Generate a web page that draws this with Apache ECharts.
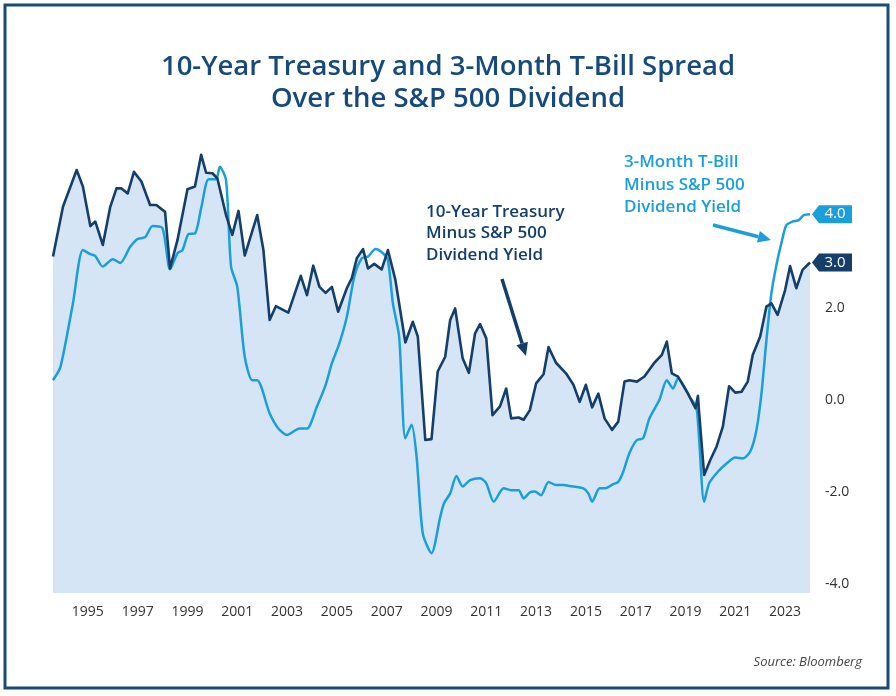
<!DOCTYPE html>
<html>
<head>
<meta charset="utf-8">
<script src="https://cdn.jsdelivr.net/npm/echarts@6/dist/echarts.min.js"></script>
<style>
  html, body { margin: 0; padding: 0; background: #fff; }
  #chart { width: 896px; height: 696px; }
</style>
</head>
<body>
<div id="chart"></div>
<script>
// 10-Year Treasury minus S&P 500 dividend yield, [year, spread]
const tenYearData = [
  [1993.6, 3.12], [1994.0, 4.20], [1994.55, 5.00], [1994.8, 4.64], [1995.1, 3.78],
  [1995.3, 3.88], [1995.6, 3.37], [1995.9, 4.20], [1996.15, 4.60], [1996.35, 4.60],
  [1996.6, 4.49], [1996.85, 4.96], [1997.15, 4.75], [1997.5, 4.24], [1997.75, 4.24],
  [1998.1, 4.09], [1998.3, 2.86], [1998.6, 3.48], [1999.0, 4.58], [1999.3, 4.64],
  [1999.55, 5.33], [1999.75, 4.94], [2000.0, 4.93], [2000.2, 4.82], [2000.55, 4.02],
  [2000.8, 3.59], [2001.05, 4.11], [2001.3, 3.14], [2001.8, 4.02], [2002.05, 3.26],
  [2002.3, 1.74], [2002.55, 2.04], [2003.05, 1.90], [2003.55, 2.70], [2003.8, 2.28],
  [2004.05, 2.92], [2004.3, 2.46], [2004.55, 2.33], [2004.8, 2.46], [2005.05, 1.92],
  [2005.4, 2.43], [2005.6, 2.65], [2005.8, 3.08], [2006.05, 3.28], [2006.25, 2.86],
  [2006.5, 2.96], [2006.8, 2.84], [2007.05, 3.26], [2007.35, 2.61], [2007.75, 1.25],
  [2008.05, 1.70], [2008.25, 1.38], [2008.55, -0.87], [2008.8, -0.85], [2009.05, 0.62],
  [2009.35, 0.94], [2009.55, 1.74], [2009.75, 1.99], [2010.05, 0.91], [2010.3, 0.59],
  [2010.55, 1.45], [2010.75, 1.65], [2011.0, 1.34], [2011.25, -0.33], [2011.55, -0.14],
  [2011.8, 0.25], [2012.0, -0.40], [2012.3, -0.38], [2012.5, -0.43], [2012.75, -0.22],
  [2013.0, 0.36], [2013.3, 0.56], [2013.5, 1.15], [2013.8, 0.81], [2014.2, 0.58],
  [2014.5, 0.33], [2014.75, -0.04], [2015.0, 0.33], [2015.25, -0.16], [2015.5, 0.14],
  [2015.75, -0.40], [2016.05, -0.65], [2016.3, -0.47], [2016.55, 0.40], [2016.75, 0.43],
  [2017.05, 0.40], [2017.35, 0.51], [2017.75, 0.81], [2018.05, 0.98], [2018.25, 1.27],
  [2018.45, 0.58], [2018.7, 0.51], [2019.1, 0.14], [2019.4, -0.18], [2019.5, 0.09],
  [2019.55, -0.29], [2019.75, -1.63], [2020.0, -1.30], [2020.25, -1.01], [2020.5, -0.58],
  [2020.75, 0.30], [2021.0, 0.16], [2021.25, 0.18], [2021.5, 0.40], [2021.7, 0.98],
  [2022.0, 1.38], [2022.25, 2.03], [2022.45, 2.10], [2022.7, 1.85], [2023.0, 2.39],
  [2023.2, 2.91], [2023.45, 2.43], [2023.7, 2.83], [2024.0, 2.99]
];

// 3-Month T-Bill minus S&P 500 dividend yield, [year, spread]
const billData = [
  [1993.6, 0.43], [1993.9, 0.72], [1994.4, 2.10], [1994.8, 3.26], [1995.1, 3.17],
  [1995.3, 3.13], [1995.6, 2.90], [1996.0, 3.06], [1996.3, 2.98], [1996.7, 3.33],
  [1997.0, 3.50], [1997.3, 3.54], [1997.6, 3.78], [1998.0, 3.73], [1998.3, 2.84],
  [1998.6, 3.19], [1998.8, 3.26], [1999.05, 3.61], [1999.3, 3.62], [1999.55, 4.17],
  [1999.85, 4.80], [2000.15, 4.80], [2000.3, 5.07], [2000.55, 4.78], [2000.75, 2.90],
  [2001.0, 2.46], [2001.3, 0.94], [2001.6, 0.43], [2001.8, 0.43], [2002.3, -0.29],
  [2002.65, -0.62], [2003.0, -0.76], [2003.5, -0.62], [2003.8, -0.62], [2004.2, -0.14],
  [2004.55, 0.33], [2004.8, 0.80], [2005.1, 1.23], [2005.4, 1.81], [2005.7, 2.68],
  [2006.0, 3.08], [2006.25, 3.12], [2006.55, 3.28], [2006.85, 3.19], [2007.05, 3.04],
  [2007.25, 2.10], [2007.5, 1.38], [2007.75, -0.83], [2008.0, -0.54], [2008.2, -1.23],
  [2008.45, -2.90], [2008.8, -3.33], [2009.15, -2.54], [2009.3, -2.25], [2009.55, -2.03],
  [2009.8, -1.65], [2010.05, -1.88], [2010.35, -1.74], [2010.75, -1.70], [2011.0, -1.81],
  [2011.3, -2.21], [2011.7, -1.92], [2012.0, -1.96], [2012.3, -1.96], [2012.5, -2.14],
  [2012.75, -2.01], [2012.95, -1.99], [2013.2, -2.07], [2013.5, -1.78], [2013.8, -1.85],
  [2014.1, -1.85], [2014.35, -1.87], [2014.9, -1.92], [2015.1, -2.03], [2015.25, -2.21],
  [2015.55, -1.92], [2015.75, -1.92], [2016.1, -1.83], [2016.3, -1.78], [2016.5, -1.56],
  [2016.75, -1.15], [2017.05, -0.87], [2017.3, -0.83], [2017.55, -0.40], [2017.95, 0.00],
  [2018.25, 0.43], [2018.5, 0.25], [2018.7, 0.47], [2019.2, 0.04], [2019.45, -0.18],
  [2019.75, -2.21], [2019.95, -1.81], [2020.3, -1.56], [2020.65, -1.38], [2021.0, -1.25],
  [2021.3, -1.27], [2021.6, -1.12], [2021.85, -0.65], [2022.05, 0.14], [2022.25, 1.30],
  [2022.45, 2.32], [2022.65, 2.93], [2022.85, 3.41], [2023.05, 3.80], [2023.3, 3.88],
  [2023.55, 3.91], [2023.75, 4.02], [2024.0, 4.04]
];

// tick labels
const xTicks = [1995, 1997, 1999, 2001, 2003, 2005, 2007, 2009, 2011, 2013, 2015, 2017, 2019, 2021, 2023];
const yTicks = [-4, -2, 0, 2];

const darkBlue = '#143f6b';
const lightBlue = '#1a9fdb';
const fillBlue = '#d5e5f5';
const textFont = '600 17px "Open Sans"';

// 末端标签(带箭头的小方框)
function endTag(data, color) {
  const last = data[data.length - 1];
  return {
    symbol: 'path://M0,9 L7,0 L40,0 L40,18 L7,18 Z',
    symbolSize: [40, 18],
    symbolOffset: [22, 0],
    silent: true,
    itemStyle: { color: color },
    label: {
      show: true,
      position: 'inside',
      offset: [3, 0],
      color: '#fff',
      fontSize: 15,
      fontFamily: 'Open Sans',
      formatter: function (p) { return p.value.toFixed(1); }
    },
    data: [{ coord: last, value: last[1] }]
  };
}

// 箭头
function arrow(x1, y1, x2, y2, color) {
  const ang = Math.atan2(y2 - y1, x2 - x1);
  const len = 13, half = 6;
  const bx = x2 - len * Math.cos(ang), by = y2 - len * Math.sin(ang);
  const px = -Math.sin(ang) * half, py = Math.cos(ang) * half;
  return [
    { type: 'line', shape: { x1: x1, y1: y1, x2: bx, y2: by }, style: { stroke: color, lineWidth: 3.5 } },
    { type: 'polygon', shape: { points: [[x2, y2], [bx + px, by + py], [bx - px, by - py]] }, style: { fill: color } }
  ];
}

const myChart = echarts.init(document.getElementById('chart'));
myChart.setOption({
  animation: false,
  title: {
    text: '10-Year Treasury and 3-Month T-Bill Spread\nOver the S&P 500 Dividend',
    left: 'center',
    top: 46,
    textStyle: {
      fontFamily: 'Open Sans',
      fontSize: 27.5,
      fontWeight: 600,
      color: '#174a7c',
      lineHeight: 32
    }
  },
  grid: { left: 53, right: 86, top: 142.4, bottom: 102.8 },
  xAxis: {
    type: 'value',
    min: 1993.6,
    max: 2024.0,
    axisLine: { show: false },
    axisTick: { show: false },
    splitLine: { show: false },
    axisLabel: {
      customValues: xTicks,
      margin: 12,
      fontSize: 14,
      fontFamily: 'Open Sans',
      color: '#333',
      formatter: function (v) { return String(v); }
    }
  },
  yAxis: {
    type: 'value',
    position: 'right',
    min: -4.2,
    max: 5.6,
    axisLine: { show: false },
    axisTick: { show: false },
    splitLine: { show: false },
    axisLabel: {
      customValues: yTicks,
      margin: 15,
      fontSize: 14,
      fontFamily: 'Open Sans',
      color: '#333',
      formatter: function (v) { return v.toFixed(1); }
    }
  },
  series: [
    {
      name: 'fill',
      type: 'line',
      data: tenYearData,
      showSymbol: false,
      silent: true,
      lineStyle: { width: 0 },
      areaStyle: { color: fillBlue, opacity: 1, origin: 'start' },
      z: 1
    },
    {
      name: '3-Month T-Bill',
      type: 'line',
      data: billData,
      showSymbol: false,
      smooth: 0.25,
      lineStyle: { color: lightBlue, width: 2.5 },
      markPoint: endTag(billData, lightBlue),
      z: 3
    },
    {
      name: '10-Year Treasury',
      type: 'line',
      data: tenYearData,
      showSymbol: false,
      lineStyle: { color: darkBlue, width: 2.6, join: 'round' },
      markPoint: endTag(tenYearData, darkBlue),
      z: 4
    }
  ],
  graphic: [
    { type: 'rect', shape: { x: 5, y: 5, width: 883, height: 683 }, style: { fill: 'none', stroke: '#1c4a78', lineWidth: 3 }, z: 10 },
    { type: 'text', x: 426, y: 201, style: { text: '10-Year Treasury\nMinus S&P 500\nDividend Yield', font: textFont, fill: darkBlue, lineHeight: 21.5 }, z: 10 },
    { type: 'text', x: 624, y: 151, style: { text: '3-Month T-Bill\nMinus S&P 500\nDividend Yield', font: textFont, fill: lightBlue, lineHeight: 22.5 }, z: 10 },
    ...arrow(502, 279, 526, 356, darkBlue),
    ...arrow(713, 225, 771, 240, lightBlue),
    { type: 'text', right: 34, top: 656, style: { text: 'Source: Bloomberg', font: 'italic 13px "Open Sans"', fill: '#444' }, z: 10 }
  ]
});
</script>
</body>
</html>
